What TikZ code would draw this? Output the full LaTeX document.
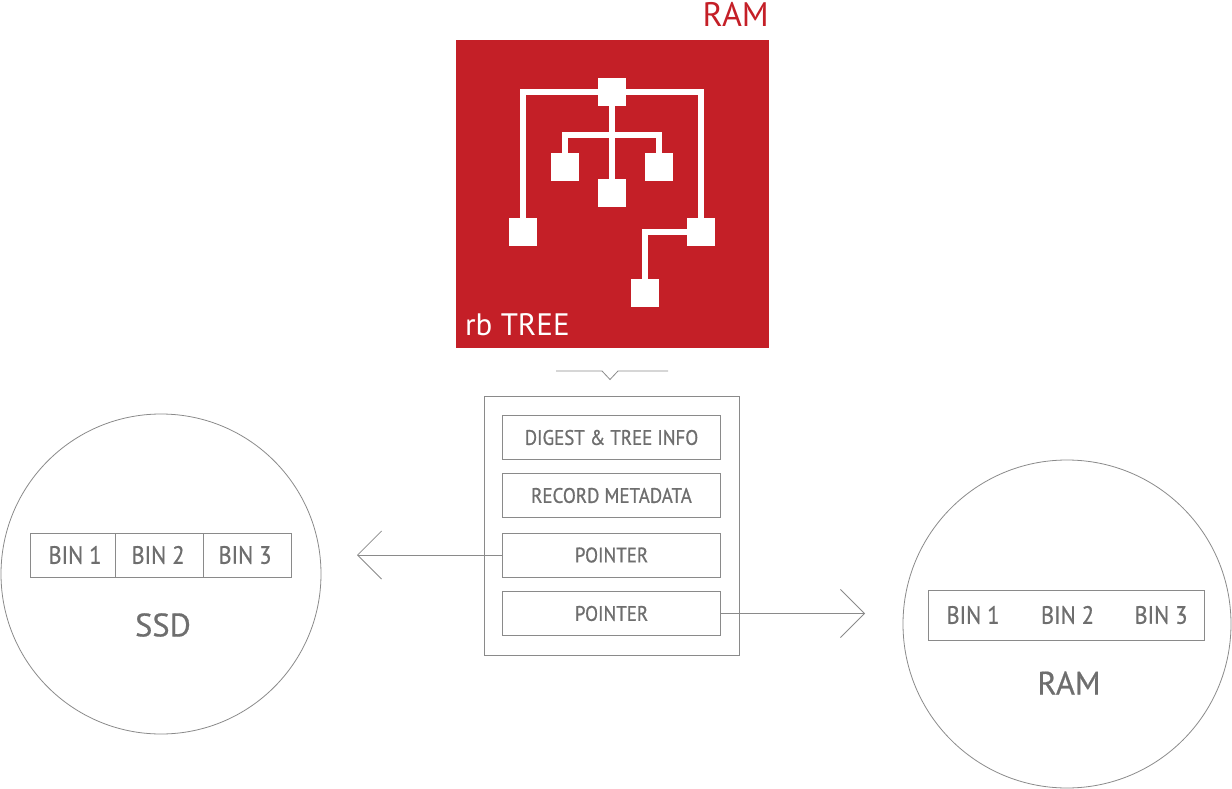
\documentclass[tikz,border=0pt]{standalone}
\usepackage{fontspec}
\setmainfont{PT Sans}
\newfontfamily\cf[FakeStretch=0.9,FakeBold=0.8]{PT Sans}
\newfontfamily\cg[FakeBold=0.6]{PT Sans}
\usetikzlibrary{arrows.meta}
\definecolor{rbred}{HTML}{C41F27}
\definecolor{txtgray}{HTML}{6E6E6E}
\definecolor{linegray}{HTML}{8A8A8A}
\begin{document}
\begin{tikzpicture}[x=1pt,y=-1pt,
  treenode/.style={fill=white,minimum size=28pt,inner sep=0pt,outer sep=0pt},
  treeline/.style={white,line width=6pt},
  recbox/.style={draw=linegray,line width=0.8pt,minimum width=218pt,minimum height=44pt,inner sep=0pt,text=txtgray,font=\cf\fontsize{21}{21}\selectfont},
  bintext/.style={text=txtgray,font=\cf\fontsize{25}{25}\selectfont,inner sep=0pt},
  biglabel/.style={text=txtgray,font=\cg\fontsize{32.5}{32.5}\selectfont,inner sep=0pt},
  circ/.style={draw=linegray,line width=0.8pt,circle,inner sep=0pt},
  conn/.style={draw=linegray,line width=0.8pt},
  binbox/.style={draw=linegray,line width=0.8pt,minimum height=44pt,inner sep=0pt},
]
\useasboundingbox (0,0) rectangle (1232,789);

% red rb tree box
\node[fill=rbred,minimum width=313pt,minimum height=308pt,inner sep=0pt] (rb) at (612.5,194) {};
\node[anchor=base east,text=rbred,font=\fontsize{34}{34}\selectfont,inner sep=0pt] (ramtop) at (769,27) {RAM};
\node[anchor=base west,text=white,font=\fontsize{31}{31}\selectfont,inner sep=0pt] (rbt) at (465,335) {rb TREE};

% tree
\node[treenode] (root) at (612,92) {};
\node[treenode] (ll) at (522.5,232) {};
\node[treenode] (rn) at (701,232) {};
\node[treenode] (bl) at (645,293) {};
\node[treenode] (lc) at (565,167.5) {};
\node[treenode] (mc) at (612,193) {};
\node[treenode] (rc) at (658.5,167.5) {};
\coordinate (j) at (612,135.5);
\draw[treeline] (ll.center) |- (root.center) -| (rn.center);
\draw[treeline] (root.center) -- (mc.center);
\draw[treeline] (lc.center) |- (j) -| (rc.center);
\draw[treeline] (rn.center) -| (bl.center);
\foreach \n in {root,ll,rn,bl,lc,mc,rc} \node[treenode] at (\n) {};

% small chevron under box
\coordinate (chL) at (556,371);
\coordinate (chR) at (668,371);
\draw[conn] (chL) -- (602,371) -- (610,379.5) -- (618,371) -- (chR);

% record box
\node[draw=linegray,line width=0.8pt,minimum width=255pt,minimum height=259pt,inner sep=0pt] (rec) at (611.5,525.5) {};
\node[recbox] (b1) at (611.5,437.5) {DIGEST \& TREE INFO};
\node[recbox] (b2) at (611.5,495.5) {RECORD METADATA};
\node[recbox] (b3) at (611.5,555) {POINTER};
\node[recbox] (b4) at (611.5,613.5) {POINTER};

% SSD circle
\node[circ,minimum size=320pt] (ssd) at (161,574) {};
\node[binbox,minimum width=85pt] (s1) at (72.7,555) {};
\node[binbox,minimum width=88pt] (s2) at (159.3,555) {};
\node[binbox,minimum width=88pt] (s3) at (247.3,555) {};
\node[bintext] at (75,555) {BIN 1};
\node[bintext] at (158,555) {BIN 2};
\node[bintext] at (245,555) {BIN 3};
\node[biglabel] (ssdl) at (163,625) {SSD};

% RAM circle
\node[circ,minimum size=328pt] (ram) at (1067,624) {};
\node[binbox,minimum width=276pt,minimum height=50pt] (rbins) at (1066,615.3) {};
\node[bintext] at (973,615) {BIN 1};
\node[bintext] at (1067.5,615) {BIN 2};
\node[bintext] at (1161,615) {BIN 3};
\node[biglabel] (raml) at (1069,683) {RAM};

% arrows
\coordinate (tipL) at (357,555);
\coordinate (tipR) at (865,613.5);
\draw[conn,-{Straight Barb[length=24pt,width=48pt,line width=0.8pt]}] (b3.west) -- (tipL);
\draw[conn,-{Straight Barb[length=24pt,width=48pt,line width=0.8pt]}] (b4.east) -- (tipR);
\end{tikzpicture}
\end{document}
